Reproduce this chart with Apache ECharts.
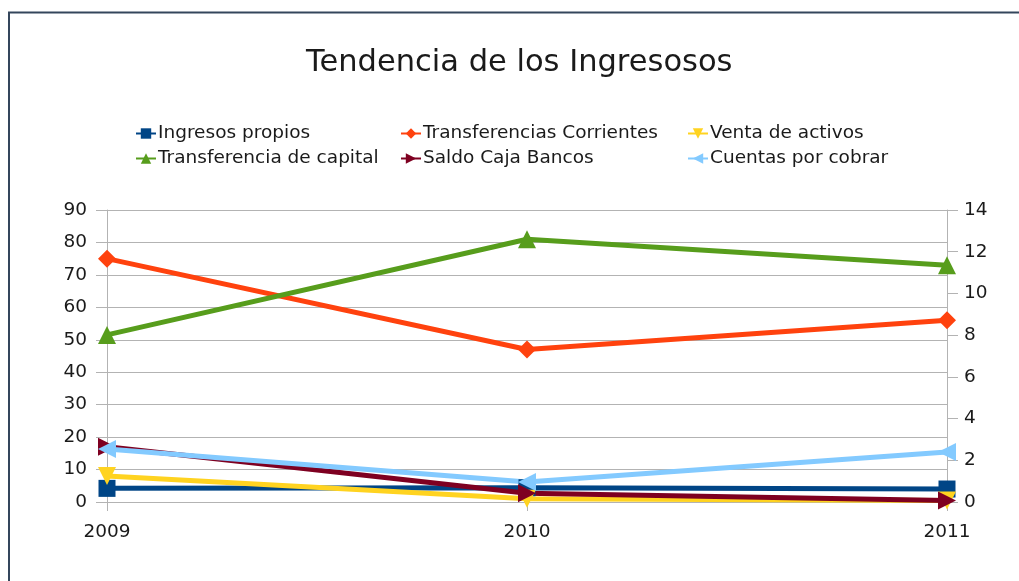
<!DOCTYPE html>
<html>
<head>
<meta charset="utf-8">
<script src="https://cdn.jsdelivr.net/npm/echarts@6/dist/echarts.min.js"></script>
<style>
  html, body { margin: 0; padding: 0; background: #fff; }
  #chart { width: 1019px; height: 581px; }
</style>
</head>
<body>
<div id="chart"></div>
<script>
// Years on the category axis
const years = ['2009', '2010', '2011'];

// Series values (left axis units)
const ingresosPropios = [4.2, 4.4, 4.0];
const transferenciasCorrientes = [75, 47, 56];
const ventaActivos = [8, 1, 0.5];
const transferenciaCapital = [51.5, 81, 73];
const saldoCajaBancos = [17, 2.7, 0.5];
const cuentasPorCobrar = [16.3, 6.2, 15.4];

const seriesNames = [
  'Ingresos propios', 'Transferencias Corrientes', 'Venta de activos',
  'Transferencia de capital', 'Saldo Caja Bancos', 'Cuentas por cobrar'
];

const FONT = '"DejaVu Sans", sans-serif';
const TEXT = '#1a1a1a';
const GRID = '#b3b3b3';

function line(name, data, color, symbol, rotate) {
  return {
    name: name,
    type: 'line',
    yAxisIndex: 0,
    data: data,
    symbol: symbol,
    symbolSize: symbol === 'rect' ? 17 : 18,
    symbolRotate: rotate || 0,
    lineStyle: { color: color, width: 5 },
    itemStyle: { color: color },
    emphasis: { disabled: true },
    animation: false
  };
}

function legendCol(left, names) {
  return {
    orient: 'vertical',
    left: left,
    top: 124,
    padding: 0,
    itemWidth: 20,
    itemHeight: 13,
    itemGap: 6,
    data: names,
    textStyle: { fontFamily: FONT, fontSize: 18.5, color: TEXT, padding: [0, 0, 0, -3] }
  };
}

const chart = echarts.init(document.getElementById('chart'));
chart.setOption({
  backgroundColor: '#fff',
  title: {
    text: 'Tendencia de los Ingresosos',
    left: 306,
    top: 48,
    padding: 0,
    textStyle: { fontFamily: FONT, fontSize: 30.5, fontWeight: 'normal', color: TEXT }
  },
  legend: [
    legendCol(135, [seriesNames[0], seriesNames[3]]),
    legendCol(400, [seriesNames[1], seriesNames[4]]),
    legendCol(687, [seriesNames[2], seriesNames[5]])
  ],
  graphic: [{
    type: 'rect',
    shape: { x: 9, y: 12.5, width: 1200, height: 800 },
    style: { fill: null, stroke: '#34465c', lineWidth: 2 },
    silent: true
  }],
  grid: { left: 107, right: 72, top: 210, bottom: 79 },
  xAxis: {
    type: 'category',
    data: years,
    boundaryGap: false,
    axisLine: { lineStyle: { color: GRID, width: 1 } },
    axisTick: { show: true, length: 9, lineStyle: { color: GRID } },
    axisLabel: { fontFamily: FONT, fontSize: 18.5, color: TEXT, margin: 21 },
    splitLine: { show: false }
  },
  yAxis: [{
    type: 'value',
    min: 0, max: 90, interval: 10,
    axisLine: { show: true, lineStyle: { color: GRID } },
    axisTick: { show: true, length: 11, lineStyle: { color: GRID } },
    axisLabel: { fontFamily: FONT, fontSize: 18.5, color: TEXT, margin: 20 },
    splitLine: { show: true, lineStyle: { color: GRID, width: 1 } }
  }, {
    type: 'value',
    min: 0, max: 14, interval: 2,
    position: 'right',
    axisLine: { show: true, lineStyle: { color: GRID } },
    axisTick: { show: true, length: 11, lineStyle: { color: GRID } },
    axisLabel: { fontFamily: FONT, fontSize: 18.5, color: TEXT, margin: 17 },
    splitLine: { show: false }
  }],
  series: [
    line(seriesNames[0], ingresosPropios, '#004586', 'rect'),
    line(seriesNames[1], transferenciasCorrientes, '#ff420e', 'diamond'),
    line(seriesNames[2], ventaActivos, '#ffd320', 'triangle', 180),
    line(seriesNames[3], transferenciaCapital, '#579d1c', 'triangle'),
    line(seriesNames[4], saldoCajaBancos, '#7e0021', 'triangle', -90),
    line(seriesNames[5], cuentasPorCobrar, '#83caff', 'triangle', 90)
  ]
});
</script>
</body>
</html>
